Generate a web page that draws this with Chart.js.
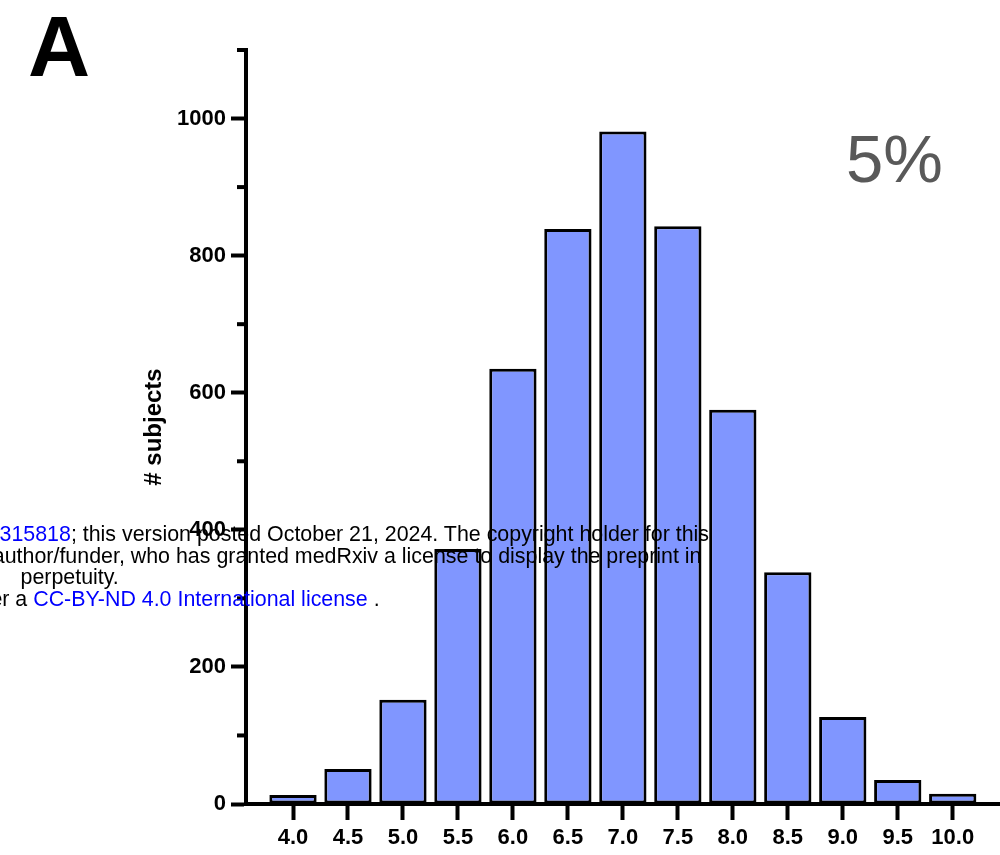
<!DOCTYPE html>
<html><head><meta charset="utf-8">
<script src="https://cdn.jsdelivr.net/npm/chart.js@4.4.0/dist/chart.umd.min.js"></script>
<style>
html,body{margin:0;padding:0;background:#fff;}
#wrap{position:relative;width:1000px;height:855px;overflow:hidden;background:#fff;}
canvas{position:absolute;left:0;top:0;}
.t{position:absolute;white-space:nowrap;font-family:"Liberation Sans",Arial,Helvetica,sans-serif;}
.wm{font-size:21.4px;line-height:21.5px;color:#000;}
.blue{color:#0000ff;}
</style></head><body>
<div id="wrap">
<canvas id="c" width="1000" height="855"></canvas>
<div class="t" style="left:28px;top:3px;font-size:86px;line-height:86px;font-weight:bold;color:#000;">A</div>
<div class="t" style="left:846px;top:125px;font-size:67px;line-height:67px;color:#595959;">5%</div>
<div class="t wm" style="right:291px;top:524px;">medRxiv preprint doi: <span class="blue">https://doi.org/10.1101/2024.10.20.24315818</span>; this version posted October 21, 2024. The copyright holder for this</div>
<div class="t wm" style="right:298.5px;top:545.5px;">preprint (which was not certified by peer review) is the author/funder, who has granted medRxiv a license to display the preprint in</div>
<div class="t wm" style="left:20.5px;top:567px;">perpetuity.</div>
<div class="t wm" style="right:620.4px;top:588.5px;">It is made available under a <span class="blue">CC-BY-ND 4.0 International license</span> .</div>
</div>
<script>
const xCategories = [4.0, 4.5, 5.0, 5.5, 6.0, 6.5, 7.0, 7.5, 8.0, 8.5, 9.0, 9.5, 10.0];
const subjects = [13, 51, 152, 372, 635, 839, 981, 843, 575, 338, 127, 35, 15];
const yMajorTicks = [0, 200, 400, 600, 800, 1000];
const yMinorTicks = [100, 300, 500, 700, 900, 1100];
const yTitle = '# subjects';

const FONT = '"Liberation Sans", Arial, Helvetica, sans-serif';
Chart.defaults.font.family = FONT;
Chart.defaults.color = '#000';

const minorTickPlugin = {
  id: 'minorTicks',
  afterDraw(chart) {
    const y = chart.scales.y;
    const ctx = chart.ctx;
    ctx.save();
    ctx.strokeStyle = '#000';
    ctx.lineWidth = 4;
    yMinorTicks.forEach(v => {
      const py = y.getPixelForValue(v);
      ctx.beginPath();
      ctx.moveTo(y.right - 9, py);
      ctx.lineTo(y.right, py);
      ctx.stroke();
    });
    ctx.restore();
  }
};

new Chart(document.getElementById('c'), {
  type: 'bar',
  data: {
    datasets: [{
      data: xCategories.map((x, i) => ({x: x, y: subjects[i]})),
      backgroundColor: 'rgb(128,150,255)',
      borderColor: '#000',
      borderWidth: 3,
      borderSkipped: false,
      categoryPercentage: 1.0,
      barPercentage: 0.86
    }]
  },
  options: {
    responsive: false,
    animation: false,
    devicePixelRatio: 1,
    layout: {padding: {top: 50, right: 0, bottom: 0, left: 0}},
    plugins: {legend: {display: false}, tooltip: {enabled: false}, title: {display: false}},
    scales: {
      x: {
        type: 'linear',
        offset: false,
        min: 3.5725,
        max: 10.43,
        grid: {display: true, offset: false, drawOnChartArea: false, drawTicks: true, tickLength: 16, tickWidth: 4, tickColor: '#000', color: '#000'},
        border: {display: true, color: '#000', width: 4},
        afterBuildTicks(scale) { scale.ticks = xCategories.map(v => ({value: v})); },
        afterFit(scale) { scale.height = 51; },
        ticks: {
          autoSkip: false, maxRotation: 0, minRotation: 0, padding: 5,
          color: '#000', font: {size: 22, weight: 'bold'},
          callback: (v) => Number(v).toFixed(1)
        }
      },
      y: {
        min: 0,
        max: 1100,
        grid: {display: true, drawOnChartArea: false, drawTicks: true, tickLength: 15, tickWidth: 4, tickColor: '#000', color: '#000'},
        border: {display: true, color: '#000', width: 4},
        afterBuildTicks(scale) { scale.ticks = yMajorTicks.map(v => ({value: v})); },
        afterFit(scale) { scale.width = 246; },
        ticks: {
          autoSkip: false, padding: 5, color: '#000', font: {size: 22, weight: 'bold'},
          callback: (v) => String(v)
        },
        title: {display: true, text: yTitle, color: '#000', font: {size: 24, weight: 'bold'}, padding: {top: 140, bottom: 0}}
      }
    }
  },
  plugins: [minorTickPlugin]
});
</script>
</body></html>
